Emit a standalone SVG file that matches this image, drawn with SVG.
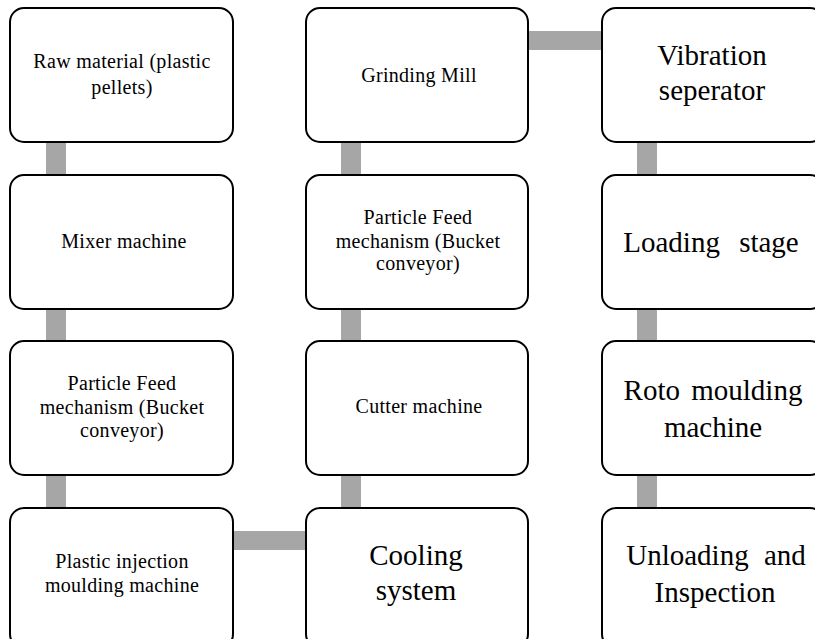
<svg xmlns="http://www.w3.org/2000/svg" width="815" height="639" viewBox="0 0 815 639">
<style>
.box{fill:#fff;stroke:#000;stroke-width:2}
.c{fill:#A6A6A6}
.s{font-family:"Liberation Serif","Times New Roman",serif;font-size:20px;letter-spacing:0.3px;text-anchor:middle;fill:#000}
.l{font-family:"Liberation Serif","Times New Roman",serif;font-size:29px;text-anchor:middle;fill:#000}
</style>
<rect width="815" height="639" fill="#fff"/>
<g id="connectors">
<rect class="c" x="46" y="142" width="20" height="32"/>
<rect class="c" x="46" y="309" width="20" height="32"/>
<rect class="c" x="46" y="475" width="20" height="33"/>
<rect class="c" x="233" y="531" width="73" height="19"/>
<rect class="c" x="341" y="475" width="20" height="33"/>
<rect class="c" x="341" y="309" width="20" height="32"/>
<rect class="c" x="341" y="142" width="20" height="32"/>
<rect class="c" x="528" y="31" width="74" height="19"/>
<rect class="c" x="637" y="142" width="20" height="32"/>
<rect class="c" x="637" y="309" width="20" height="32"/>
<rect class="c" x="637" y="475" width="20" height="33"/>
</g>
<g id="n1"><rect class="box" x="10" y="8" width="223" height="134" rx="14"/>
<text class="s" x="122" y="68">Raw material (plastic</text><text class="s" x="122" y="94">pellets)</text></g>
<g id="n2"><rect class="box" x="10" y="175" width="223" height="134" rx="14"/>
<text class="s" x="124" y="248">Mixer machine</text></g>
<g id="n3"><rect class="box" x="10" y="341" width="223" height="134" rx="14"/>
<text class="s" x="122" y="390">Particle Feed</text><text class="s" x="122" y="414">mechanism (Bucket</text><text class="s" x="122" y="437">conveyor)</text></g>
<g id="n4"><rect class="box" x="10" y="508" width="223" height="140" rx="14"/>
<text class="s" x="122" y="568">Plastic injection</text><text class="s" x="122" y="592">moulding machine</text></g>
<g id="n5"><rect class="box" x="306" y="508" width="222" height="140" rx="14"/>
<text class="l" x="416" y="565">Cooling</text><text class="l" x="416" y="600">system</text></g>
<g id="n6"><rect class="box" x="306" y="341" width="222" height="134" rx="14"/>
<text class="s" x="419" y="413">Cutter machine</text></g>
<g id="n7"><rect class="box" x="306" y="175" width="222" height="134" rx="14"/>
<text class="s" x="418" y="224">Particle Feed</text><text class="s" x="418" y="248">mechanism (Bucket</text><text class="s" x="418" y="270">conveyor)</text></g>
<g id="n8"><rect class="box" x="306" y="8" width="222" height="134" rx="14"/>
<text class="s" x="419" y="82">Grinding Mill</text></g>
<g id="n9"><rect class="box" x="602" y="8" width="222" height="134" rx="14"/>
<text class="l" x="712" y="65">Vibration</text><text class="l" x="712" y="100">seperator</text></g>
<g id="n10"><rect class="box" x="602" y="175" width="222" height="134" rx="14"/>
<text class="l" x="711" y="252" word-spacing="12">Loading stage</text></g>
<g id="n11"><rect class="box" x="602" y="341" width="222" height="134" rx="14"/>
<text class="l" x="713" y="400" word-spacing="4">Roto moulding</text><text class="l" x="713" y="437">machine</text></g>
<g id="n12"><rect class="box" x="602" y="508" width="222" height="140" rx="14"/>
<text class="l" x="716" y="565" word-spacing="8">Unloading and</text><text class="l" x="715" y="602">Inspection</text></g>
</svg>
